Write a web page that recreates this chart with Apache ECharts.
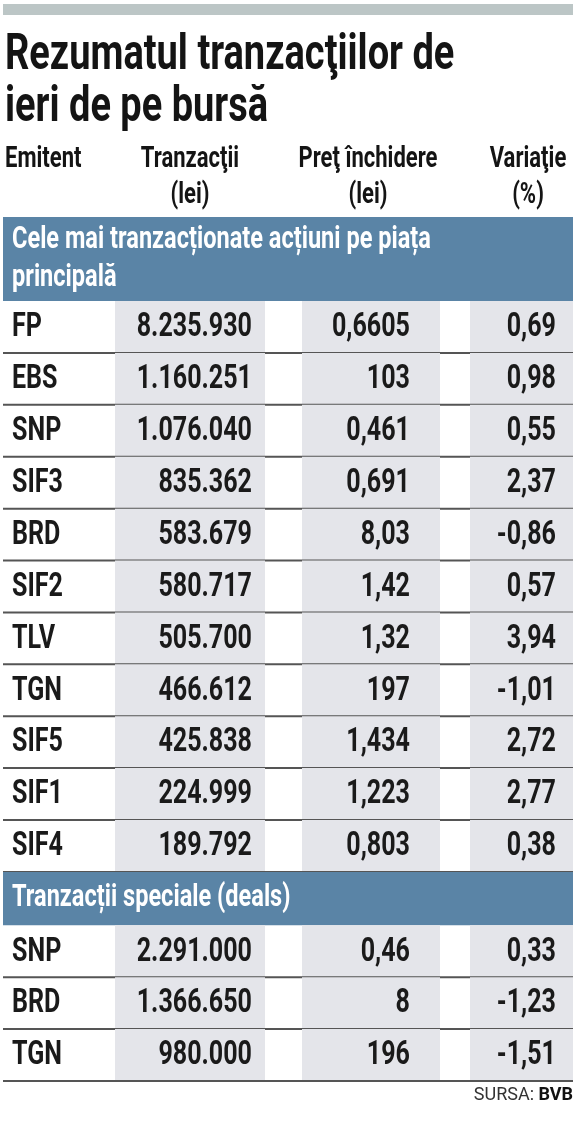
<!DOCTYPE html>
<html><head><meta charset="utf-8">
<script src="https://cdn.jsdelivr.net/npm/echarts@6/dist/echarts.min.js"></script>
<style>html,body{margin:0;background:#fff}#c{width:587px;height:1134px}</style>
</head><body><div id="c"></div>
<script>
// date
const mainEmitent = ['FP', 'EBS', 'SNP', 'SIF3', 'BRD', 'SIF2', 'TLV', 'TGN', 'SIF5', 'SIF1', 'SIF4'];
const mainTranzactii = ['8.235.930', '1.160.251', '1.076.040', '835.362', '583.679', '580.717', '505.700', '466.612', '425.838', '224.999', '189.792'];
const mainPret = ['0,6605', '103', '0,461', '0,691', '8,03', '1,42', '1,32', '197', '1,434', '1,223', '0,803'];
const mainVariatie = ['0,69', '0,98', '0,55', '2,37', '-0,86', '0,57', '3,94', '-1,01', '2,72', '2,77', '0,38'];

const dealEmitent = ['SNP', 'BRD', 'TGN'];
const dealTranzactii = ['2.291.000', '1.366.650', '980.000'];
const dealPret = ['0,46', '8', '196'];
const dealVariatie = ['0,33', '-1,23', '-1,51'];

const headers = ['Emitent', 'Tranzacţii\n(lei)', 'Preţ închidere\n(lei)', 'Variaţie\n(%)'];
const section1 = 'Cele mai tranzacționate acțiuni pe piața\nprincipală';
const section2 = 'Tranzacții speciale (deals)';

const FONT = 'Roboto, "Liberation Sans", sans-serif';
const SX = 0.76; // font îngustat
const BLUE = '#5a84a6';
const SHADE = '#e4e5ea';
// coloane: [stânga umbrire, dreapta umbrire, ancoră text]
const cols = [[null, null, 12], [115, 265, 252], [302, 440, 410], [470, 573, 556]];

const rows = [];
let u = 0;
rows.push({ kind: 'band', y0: u, y1: u + 1.62, text: section1 }); u += 1.62;
mainEmitent.forEach((e, i) => {
    rows.push({ kind: 'row', y0: u, y1: u + 1, cells: [e, mainTranzactii[i], mainPret[i], mainVariatie[i]] }); u += 1;
});
rows.push({ kind: 'band', y0: u, y1: u + 1.03, text: section2 }); u += 1.03;
dealEmitent.forEach((e, i) => {
    rows.push({ kind: 'row', y0: u, y1: u + 1, cells: [e, dealTranzactii[i], dealPret[i], dealVariatie[i]] }); u += 1;
});
const totalUnits = u;

function txt(x, y, text, font, fill, align, extra) {
    return { type: 'text', x, y, scaleX: SX, style: Object.assign({ x: 0, y: 0, text, font, fill, align: align || 'left', verticalAlign: 'middle' }, extra || {}) };
}

function renderItem(params, api) {
    const r = rows[params.dataIndex];
    const top = api.coord([0, r.y0])[1];
    const bot = api.coord([0, r.y1])[1];
    const X = v => api.coord([v, 0])[0];
    const children = [];
    if (r.kind === 'band') {
        children.push({ type: 'rect', shape: { x: X(3), y: top, width: X(573) - X(3), height: bot - top }, style: { fill: BLUE } });
        children.push(txt(X(12), (top + bot) / 2, r.text, `bold 31px ${FONT}`, '#fff', 'left', { lineHeight: 38 }));
    } else {
        cols.forEach(c => {
            if (c[0] !== null) {
                children.push({ type: 'rect', shape: { x: X(c[0]), y: top, width: X(c[1]) - X(c[0]), height: bot - top }, style: { fill: SHADE } });
            }
        });
        children.push({ type: 'rect', shape: { x: X(3), y: bot - 1, width: X(573) - X(3), height: 2 }, style: { fill: '#555' } });
        r.cells.forEach((t, j) => {
            children.push(txt(X(cols[j][2]), (top + bot) / 2 + 1, t, `bold 33px ${FONT}`, '#1a1a1a', j === 0 ? 'left' : 'right'));
        });
    }
    return { type: 'group', children };
}

const H = `bold 29px ${FONT}`;
const chart = echarts.init(document.getElementById('c'), null, { renderer: 'canvas' });
chart.setOption({
    animation: false,
    grid: { left: 0, right: 0, top: 217, bottom: 1134 - 1081 },
    xAxis: { type: 'value', min: 0, max: 587, show: false },
    yAxis: { type: 'value', min: 0, max: totalUnits, inverse: true, show: false },
    graphic: [
        { type: 'rect', shape: { x: 3, y: 4, width: 570, height: 11 }, style: { fill: '#bcc6c6' } },
        txt(5, 56, 'Rezumatul tranzacţiilor de', `bold 50px ${FONT}`, '#141414', 'left', { textShadowBlur: 0 }),
        txt(5, 108, 'ieri de pe bursă', `bold 50px ${FONT}`, '#141414'),
        txt(5, 160, headers[0], H, '#141414'),
        txt(190, 178, headers[1], H, '#141414', 'center', { lineHeight: 36 }),
        txt(368, 178, headers[2], H, '#141414', 'center', { lineHeight: 36 }),
        txt(528, 178, headers[3], H, '#141414', 'center', { lineHeight: 36 }),
        { type: 'text', right: 14, top: 1086, style: { text: '{a|SURSA: }{b|BVB}', rich: { a: { font: `18px ${FONT}`, fill: '#333' }, b: { font: `bold 18px ${FONT}`, fill: '#111' } } } }
    ],
    series: [{
        type: 'custom',
        renderItem,
        data: rows.map((r, i) => [i, r.y0]),
        silent: true
    }]
});
</script></body></html>
